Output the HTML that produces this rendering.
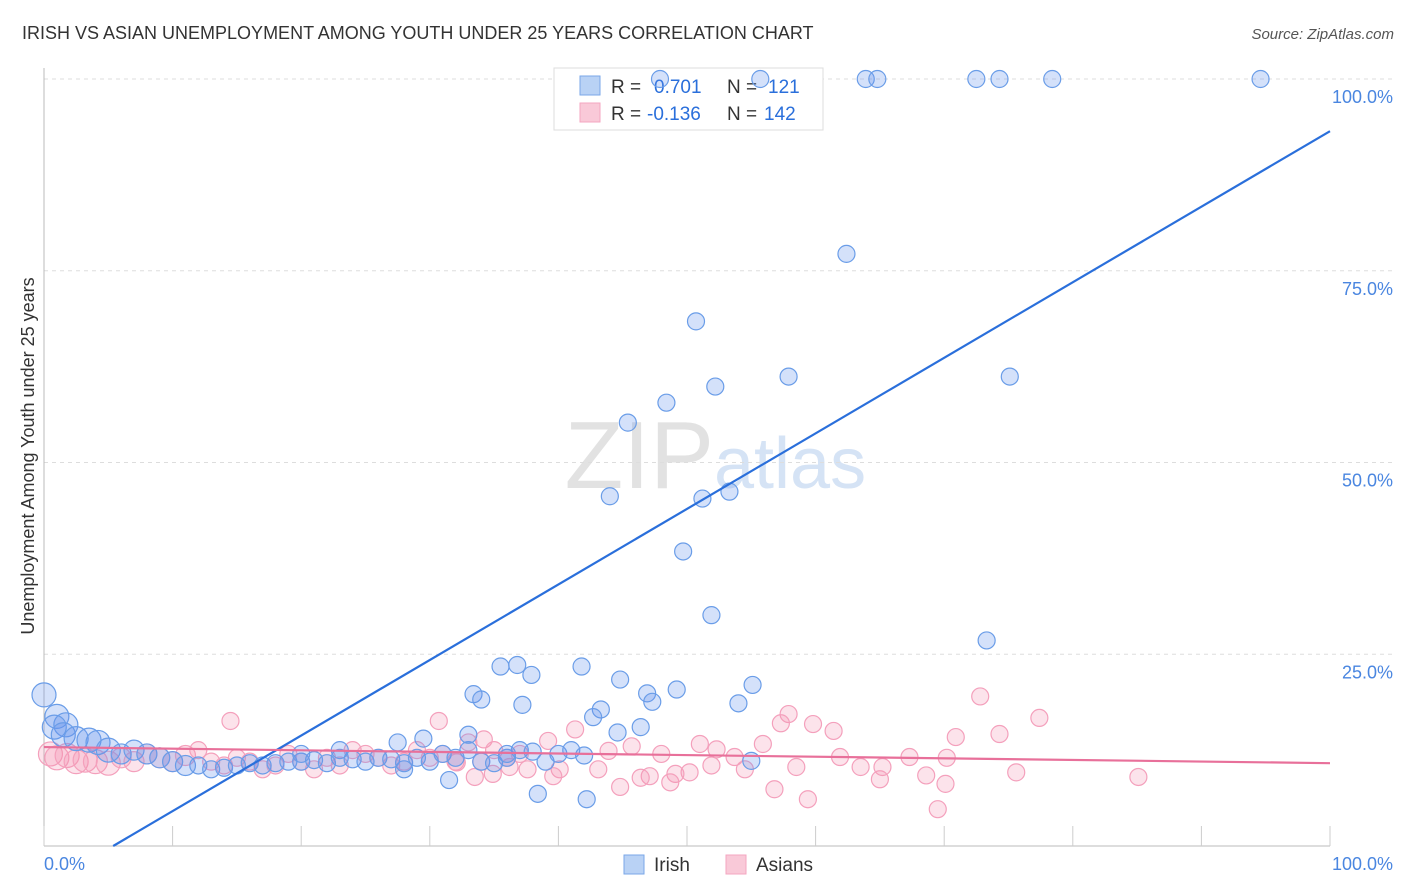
<!DOCTYPE html>
<html><head><meta charset="utf-8">
<style>
body{margin:0;background:#fff;font-family:"Liberation Sans",sans-serif;}
#wrap{position:relative;width:1406px;height:892px;overflow:hidden;}
svg text{font-family:"Liberation Sans",sans-serif;}
</style></head>
<body>
<div id="wrap">
<svg id="svg" width="1406" height="892" xmlns="http://www.w3.org/2000/svg">
<text x="22" y="39" font-size="18" fill="#333">IRISH VS ASIAN UNEMPLOYMENT AMONG YOUTH UNDER 25 YEARS CORRELATION CHART</text>
<text x="1394" y="39" font-size="15" fill="#555" font-style="italic" text-anchor="end">Source: ZipAtlas.com</text>
<text x="714" y="488" font-size="96" fill="#e2e2e2" text-anchor="end" font-family="Liberation Serif">ZIP</text>
<text x="714" y="488" font-size="72" fill="#d5e3f5">atlas</text>
<text transform="translate(34,456) rotate(-90)" font-size="18" fill="#333" text-anchor="middle">Unemployment Among Youth under 25 years</text>
<g id="grid"></g>
<g>
<rect x="554" y="68" width="269" height="62" fill="#fff" stroke="#ddd"/>
<rect x="580" y="76" width="20" height="19" fill="#b9d2f5" stroke="#7aa7e8"/>
<rect x="580" y="103" width="20" height="19" fill="#f9c9d8" stroke="#f4a6c0"/>
<text x="611" y="93" font-size="19" fill="#333">R = </text><text x="654" y="93" font-size="19" fill="#2a6fdb">0.701</text>
<text x="727" y="93" font-size="19" fill="#333">N = </text><text x="768" y="93" font-size="19" fill="#2a6fdb">121</text>
<text x="611" y="120" font-size="19" fill="#333">R = </text><text x="647" y="120" font-size="19" fill="#2a6fdb">-0.136</text>
<text x="727" y="120" font-size="19" fill="#333">N = </text><text x="764" y="120" font-size="19" fill="#2a6fdb">142</text>
</g>
<g id="pts"></g><g id="lines"></g>
<g>
<rect x="624" y="855" width="20" height="19" fill="#b9d2f5" stroke="#7aa7e8"/>
<text x="654" y="871" font-size="19" fill="#333">Irish</text>
<rect x="726" y="855" width="20" height="19" fill="#f9c9d8" stroke="#f4a6c0"/>
<text x="756" y="871" font-size="19" fill="#333">Asians</text>
</g>
</svg>
</div>
<script>
const yTicks=[25,50,75,100];
const yTickLabels=["25.0%","50.0%","75.0%","100.0%"];
const xTicks=[0,10,20,30,40,50,60,70,80,90,100];
const irishX=[47.9,55.7,63.9,64.8,72.5,74.3,78.4,94.6,62.4,50.7,52.2,57.9,75.1,48.4,45.4,44.0,51.2,53.3,49.7,51.9,73.3,35.5,36.8,37.9,41.8,44.8,49.2,46.9,55.1,33.4,34.0,37.2,43.3,54.0,47.3,42.7,44.6,46.4,0,1.0,1.7,38.4,42.2,31.5,28,55,
0.8,1.5,2.5,3.5,4.2,5,6,7,8,9,10,11,12,13,14,15,16,17,18,19,20,21,22,23,24,25,26,27,28,29,30,31,32,33,34,35,36,37,38,39,40,41,42,27.5,29.5,33,36,23,20];
const irishY=[100,100,100,100,100,100,100,100,77.2,68.4,59.9,61.2,61.2,57.8,55.2,45.6,45.3,46.2,38.4,30.1,26.8,23.4,23.6,22.3,23.4,21.7,20.4,19.9,21.0,19.8,19.1,18.4,17.8,18.6,18.8,16.8,14.8,15.5,19.7,16.9,15.8,6.8,6.1,8.6,10,11.1,
15.5,14.5,14,13.8,13.5,12.5,12,12.5,12,11.5,11,10.5,10.5,10,10.2,10.5,10.8,10.5,10.8,11,11,11.2,10.8,11.5,11.3,11,11.5,11.3,10.8,11.5,11,12,11.5,12.5,11,10.8,11.5,12.5,12.3,11,12,12.5,11.8,13.5,14,14.5,12,12.5,12];
const asianX=[14.5,30.7,72.8,77.4,85.1,69.5,59.4,56.8,59.8,57.9,57.3,61.4,70.9,75.6,74.3,67.3,65.2,63.5,61.9,65,68.6,70.1,70.2,41.3,45.7,48,51,52.3,53.7,55.9,50.2,47.1,44.8,43.1,40.1,39.6,33.5,34.9,36.2,37.6,32.1,34.2,39.2,43.9,46.4,49.1,51.9,54.5,58.5,48.7,
0.5,1,1.8,2.5,3.2,4,5,6,7,8,9,10,11,12,13,14,15,16,17,18,19,20,21,22,23,24,25,26,27,28,29,30,31,32,33,34,35,36,37];
const asianY=[16.3,16.3,19.5,16.7,9.0,4.8,6.1,7.4,15.9,17.2,16,15,14.2,9.6,14.6,11.6,10.3,10.3,11.6,8.7,9.2,8.1,11.5,15.2,13,12,13.3,12.6,11.6,13.3,9.6,9.1,7.7,10,10,9.1,9,9.4,10.3,10,10.9,13.9,13.7,12.4,8.9,9.4,10.5,10,10.3,8.3,
12,11.5,11.8,11,11.2,11,10.8,11.5,11,12,11.5,11,11.8,12.5,11,10.5,11.5,11,10,10.5,12,11,10,11.5,10.5,12.5,12,11.5,10.5,11,12.5,11.5,12,11,13.5,11,12.5,11.5,12];
const irishLine=[-5.3,93.2];
const asianLine=[12.9,10.8];
const X=v=>44+v*12.86, Y=v=>846-v*7.67;
const NS="http://www.w3.org/2000/svg";
function mk(t,a,p){const e=document.createElementNS(NS,t);for(const k in a)e.setAttribute(k,a[k]);p.appendChild(e);return e;}
const grid=document.getElementById('grid');
yTicks.forEach((v,i)=>{const l=mk('line',{x1:44,x2:1392,y1:Y(v),y2:Y(v),stroke:'#ddd','stroke-dasharray':'4,4'},grid);


const t=mk('text',{x:1393,y:Y(v)+24,'font-size':18,fill:'#4a86e0','text-anchor':'end'},grid);t.textContent=yTickLabels[i];

});
mk('line',{x1:44,x2:44,y1:68,y2:846,stroke:'#bbb'},grid);
mk('line',{x1:44,x2:1330,y1:846,y2:846,stroke:'#bbb'},grid);
xTicks.forEach(v=>{const l=mk('line',{x1:X(v),x2:X(v),y1:826,y2:846,stroke:'#ccc'},grid);

});
let t=mk('text',{x:44,y:870,'font-size':18,fill:'#4a86e0'},grid);t.textContent='0.0%';
t=mk('text',{x:1393,y:870,'font-size':18,fill:'#4a86e0','text-anchor':'end'},grid);t.textContent='100.0%';
const pts=document.getElementById('pts');
function draw(xs,ys,fill,stroke,name){xs.forEach((x,i)=>{const r=x<6?12:(x<12?10:8.5);
const c=mk('circle',{cx:X(x),cy:Y(ys[i]),r:r,fill:fill,stroke:stroke,'stroke-width':1.2},pts);

});}
draw(asianX,asianY,'rgba(244,143,177,0.25)','#f4a0bc','asian-point');
draw(irishX,irishY,'rgba(100,149,237,0.28)','#6a9de8','irish-point');
const lines=document.getElementById('lines');
const x0=(0-irishLine[0])/(irishLine[1]-irishLine[0]);
let l=mk('line',{x1:X(x0*100),y1:Y(0),x2:X(100),y2:Y(irishLine[1]),stroke:'#2a6fdb','stroke-width':2.2},lines);


l=mk('line',{x1:X(0),y1:Y(asianLine[0]),x2:X(100),y2:Y(asianLine[1]),stroke:'#e8709a','stroke-width':2.2},lines);


</script>
</body></html>
